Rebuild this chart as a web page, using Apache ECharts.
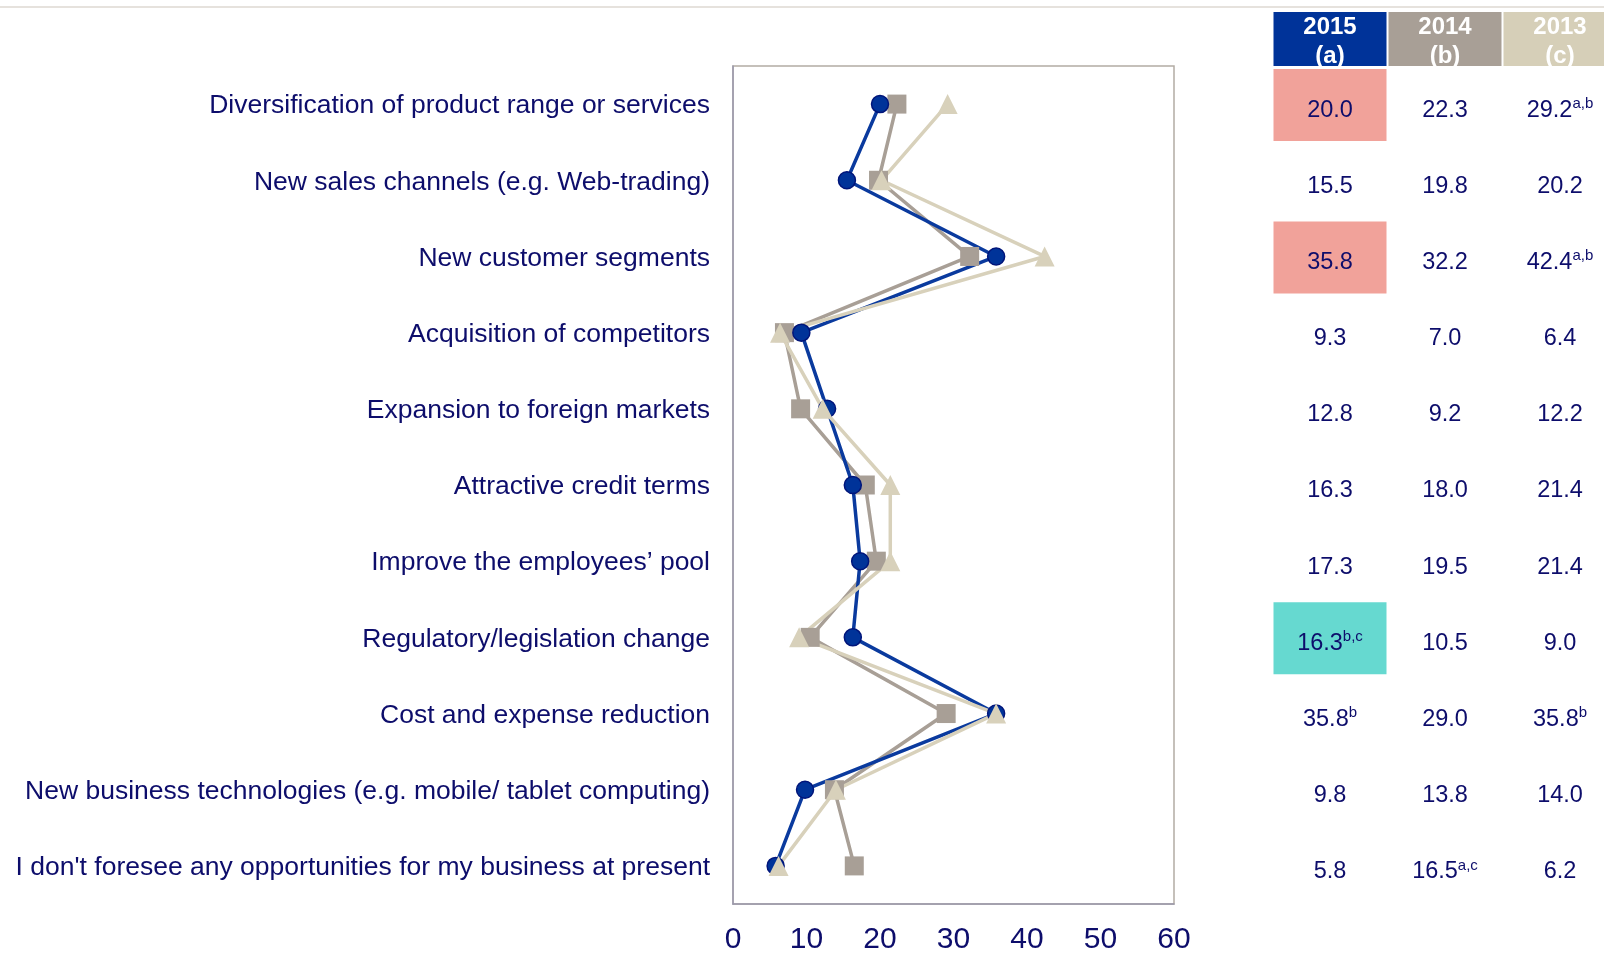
<!DOCTYPE html>
<html>
<head>
<meta charset="utf-8">
<script src="https://cdn.jsdelivr.net/npm/echarts@6/dist/echarts.min.js"></script>
<style>
  html, body { margin: 0; padding: 0; background: #fff; }
  #main { width: 1604px; height: 953px; }
</style>
</head>
<body>
<div id="main"></div>
<script>
// categories, top to bottom
var categories = [
  "Diversification of product range or services",
  "New sales channels (e.g. Web-trading)",
  "New customer segments",
  "Acquisition of competitors",
  "Expansion to foreign markets",
  "Attractive credit terms",
  "Improve the employees\u2019 pool",
  "Regulatory/legislation change",
  "Cost and expense reduction",
  "New business technologies (e.g. mobile/ tablet computing)",
  "I don't foresee any opportunities for my business at present"
];
var years = ["2015", "2014", "2013"];
var yearTags = ["(a)", "(b)", "(c)"];
var data2015 = [20.0, 15.5, 35.8, 9.3, 12.8, 16.3, 17.3, 16.3, 35.8, 9.8, 5.8];
var data2014 = [22.3, 19.8, 32.2, 7.0, 9.2, 18.0, 19.5, 10.5, 29.0, 13.8, 16.5];
var data2013 = [29.2, 20.2, 42.4, 6.4, 12.2, 21.4, 21.4, 9.0, 35.8, 14.0, 6.2];
// significance notes shown as superscripts in the table
var notes2015 = ["", "", "", "", "", "", "", "b,c", "b", "", ""];
var notes2014 = ["", "", "", "", "", "", "", "", "", "", "a,c"];
var notes2013 = ["a,b", "", "a,b", "", "", "", "", "", "b", "", ""];
// highlighted cells in the 2015 column
var highlight2015 = { 0: "#f1a29a", 2: "#f1a29a", 7: "#66d9d0" };
var xTicks = [0, 10, 20, 30, 40, 50, 60];

var navy = "#0d0d6b";
var font = "Liberation Sans, Arial, sans-serif";
var colors = { "2015": "#0a3a9e", "2014": "#a89f96", "2013": "#d8d1bb" };
var headerColors = ["#003399", "#a89f96", "#d6cfb8"];

var chart = echarts.init(document.getElementById("main"));

var gridTop = 66, gridBottom = 904;
var rowH = (gridBottom - gridTop) / categories.length;
var colX = [1330, 1445, 1560];
var colW = 113;

var graphics = [];
// thin rule at the very top
graphics.push({
  type: "rect",
  shape: { x: 0, y: 6, width: 1604, height: 2 },
  style: { fill: "#e6e2dd" },
  silent: true
});
// header cells
for (var c = 0; c < 3; c++) {
  graphics.push({
    type: "rect",
    shape: { x: colX[c] - colW / 2, y: 12, width: colW, height: 54 },
    style: { fill: headerColors[c] },
    silent: true
  });
  graphics.push({
    type: "text",
    x: colX[c],
    y: 42,
    style: {
      text: years[c] + "\n" + yearTags[c],
      fill: "#ffffff",
      font: "bold 24px " + font,
      lineHeight: 29,
      align: "center",
      verticalAlign: "middle"
    },
    silent: true
  });
}

var cols = [
  { vals: data2015, notes: notes2015 },
  { vals: data2014, notes: notes2014 },
  { vals: data2013, notes: notes2013 }
];
for (var i = 0; i < categories.length; i++) {
  var cy = gridTop + (i + 0.5) * rowH;
  if (highlight2015[i]) {
    graphics.push({
      type: "rect",
      shape: { x: colX[0] - colW / 2, y: cy - 35, width: colW, height: 72 },
      style: { fill: highlight2015[i] },
      silent: true
    });
  }
  for (var c = 0; c < 3; c++) {
    var v = cols[c].vals[i].toFixed(1);
    var n = cols[c].notes[i];
    graphics.push({
      type: "text",
      x: colX[c],
      y: cy + 6,
      style: {
        text: n ? "{v|" + v + "}{s|" + n + "}" : "{v|" + v + "}",
        align: "center",
        verticalAlign: "middle",
        rich: {
          v: { fontSize: 23.5, fontFamily: font, fill: navy, color: navy, lineHeight: 28 },
          s: { fontSize: 15, fontFamily: font, fill: navy, color: navy, lineHeight: 28, verticalAlign: "top" }
        }
      },
      silent: true
    });
  }
}

function lineSeries(name, data, symbol, size, extra) {
  var s = {
    name: name,
    type: "line",
    data: data,
    symbol: symbol,
    symbolSize: size,
    lineStyle: { color: colors[name], width: 3.5 },
    itemStyle: { color: colors[name] },
    animation: false
  };
  for (var k in extra) s[k] = extra[k];
  return s;
}

var option = {
  animation: false,
  grid: {
    left: 733, right: 430, top: gridTop, bottom: 953 - gridBottom,
    outerBoundsMode: "none",
    show: true, borderColor: "#b3aca4", borderWidth: 1.5
  },
  xAxis: {
    type: "value",
    min: xTicks[0],
    max: xTicks[xTicks.length - 1],
    interval: 10,
    axisLine: { show: true, lineStyle: { color: "#9a98ac", width: 1.5 } },
    axisTick: { show: false },
    splitLine: { show: false },
    axisLabel: { color: navy, fontSize: 30, fontFamily: font, margin: 21 }
  },
  yAxis: {
    type: "category",
    data: categories,
    inverse: true,
    boundaryGap: true,
    axisLine: { show: true, lineStyle: { color: "#9a98ac", width: 1.5 } },
    axisTick: { show: false },
    splitLine: { show: false },
    axisLabel: {
      margin: 23,
      formatter: function (v) { return "{t|" + v + "}"; },
      rich: {
        t: { color: navy, fontSize: 26.5, fontFamily: font, padding: [4, 0, 0, 0] }
      }
    }
  },
  series: [
    lineSeries("2014", data2014, "rect", 19, {}),
    lineSeries("2015", data2015, "circle", 17, {
      itemStyle: { color: "#003399", borderColor: "#00157a", borderWidth: 1.5 }
    }),
    lineSeries("2013", data2013, "triangle", 20, {})
  ],
  graphic: graphics
};

chart.setOption(option);
</script>
</body>
</html>
